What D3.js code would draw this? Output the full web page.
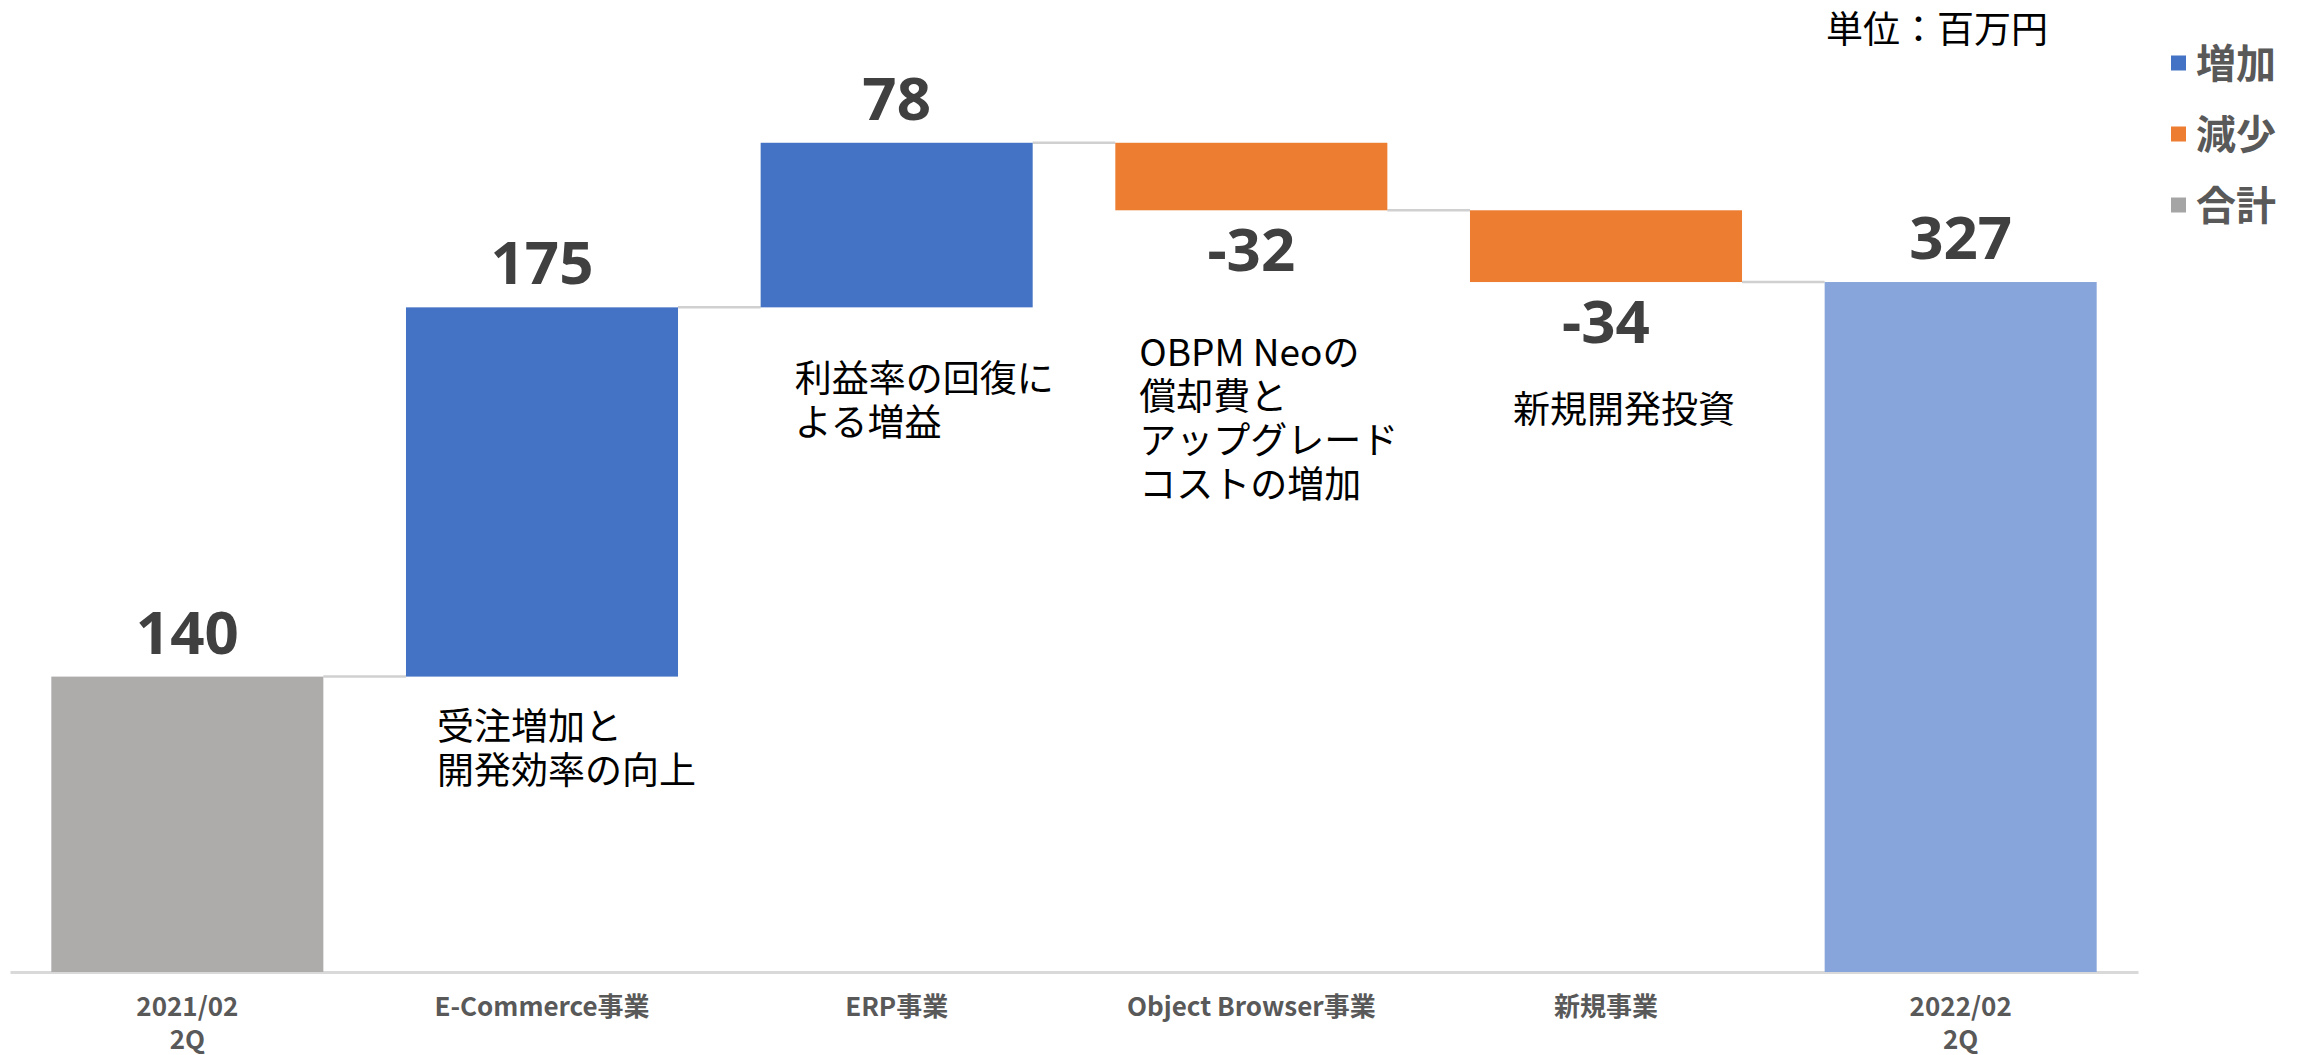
<!DOCTYPE html>
<html><head><meta charset="utf-8">
<script src="https://cdn.jsdelivr.net/npm/d3@7"></script>
<style>html,body{margin:0;padding:0;background:#fff;} svg{display:block;}</style>
</head><body>
<svg id="chart" width="2303" height="1055"></svg>
<script>
// ---- data ----
const categories = ["2021/02\n2Q", "E-Commerce事業", "ERP事業", "Object Browser事業", "新規事業", "2022/02\n2Q"];
const values = [140, 175, 78, -32, -34, 327];
const kinds = ["total", "increase", "increase", "decrease", "decrease", "total"];
const notes = [[], ["受注増加と", "開発効率の向上"], ["利益率の回復に", "よる増益"], ["OBPM Neoの", "償却費と", "アップグレード", "コストの増加"], ["新規開発投資"], []];
const legendLabels = ["増加", "減少", "合計"];
const legendKinds = ["increase", "decrease", "total"];
const unitLabel = "単位：百万円";

// ---- styles / layout ----
const kindColor = {increase: "#4472C4", decrease: "#ED7D31", total: "#A5A5A5"};
const totalBarColors = ["#AEABAB", "#87A5DA"];
const noteOffsets = [[0,0],[31,47],[34,69],[24,140],[43,125],[0,0]];
const jp = "'Noto Sans CJK JP','Noto Sans',sans-serif";
const num = "'Noto Sans','Noto Sans CJK JP',sans-serif";

const svg = d3.select("#chart");
const x = d3.scaleBand().domain(categories).range([10, 2138]).paddingInner(0.233).paddingOuter(0.1165);
const y = d3.scaleLinear().domain([0, 400]).range([972, 128]);

// waterfall segments
let run = 0, totalIdx = 0;
const segs = categories.map((c, i) => {
  let lo, hi, end;
  if (kinds[i] === "total") { lo = 0; hi = values[i]; end = values[i]; }
  else { const s = run; end = run + values[i]; lo = Math.min(s, end); hi = Math.max(s, end); }
  run = end;
  const color = kinds[i] === "total" ? totalBarColors[totalIdx++] : kindColor[kinds[i]];
  return {c, i, lo, hi, end, v: values[i], kind: kinds[i], color};
});

// axis
const axis = d3.axisBottom(x).tickSize(0).tickSizeOuter(0).tickPadding(0);
const gAxis = svg.append("g").attr("transform", `translate(0,${y(0)})`).call(axis);
gAxis.select(".domain").attr("stroke", "#D9D9D9").attr("stroke-width", 3);
gAxis.selectAll(".tick text").each(function(d) {
  const t = d3.select(this);
  t.text(null).attr("y", 0).attr("dy", null)
    .style("font-family", jp).style("font-size", "26px").style("font-weight", 700).attr("fill", "#595959");
  d.split("\n").forEach((line, k) => {
    t.append("tspan").attr("x", 0).attr("y", 44 + k * 33).text(line);
  });
});

// connectors
segs.slice(0, -1).forEach((s, k) => {
  const nx = segs[k + 1];
  svg.append("line")
    .attr("x1", x(s.c) + x.bandwidth()).attr("x2", x(nx.c))
    .attr("y1", y(s.end)).attr("y2", y(s.end))
    .attr("stroke", "#D0D0D0").attr("stroke-width", 2.5);
});

// bars
svg.append("g").selectAll("rect").data(segs).join("rect")
  .attr("x", d => x(d.c)).attr("width", x.bandwidth())
  .attr("y", d => y(d.hi)).attr("height", d => y(d.lo) - y(d.hi))
  .attr("fill", d => d.color);

// value labels
svg.append("g").selectAll("text").data(segs).join("text")
  .attr("x", d => x(d.c) + x.bandwidth() / 2)
  .attr("y", d => d.kind === "decrease" ? y(d.lo) + 61 : y(d.hi) - 23)
  .attr("text-anchor", "middle")
  .style("font-family", num).style("font-size", "60px").style("font-weight", 700)
  .attr("fill", "#404040")
  .text(d => d.v);

// notes
segs.forEach(s => {
  if (!notes[s.i].length) return;
  const [dx, dy] = noteOffsets[s.i];
  const t = svg.append("text")
    .style("font-family", jp).style("font-size", "37px").style("font-weight", 400)
    .attr("fill", "#000");
  notes[s.i].forEach((line, k) => {
    t.append("tspan").attr("x", x(s.c) + dx).attr("y", y(s.lo) + dy + k * 44)
      .attr("dominant-baseline", "central").text(line);
  });
});

// unit label
svg.append("text").attr("x", 1826).attr("y", 27).attr("dominant-baseline", "central")
  .style("font-family", jp).style("font-size", "37px").attr("fill", "#000").text(unitLabel);

// legend
const lg = svg.append("g").selectAll("g").data(legendLabels).join("g")
  .attr("transform", (d, k) => `translate(2171,${63 + k * 71})`);
lg.append("rect").attr("x", 0).attr("y", -7.5).attr("width", 15).attr("height", 15)
  .attr("fill", (d, k) => kindColor[legendKinds[k]]);
lg.append("text").attr("x", 25).attr("y", -2).attr("dominant-baseline", "central")
  .style("font-family", jp).style("font-size", "40px").style("font-weight", 700)
  .attr("fill", "#595959").text(d => d);
</script>
</body></html>
